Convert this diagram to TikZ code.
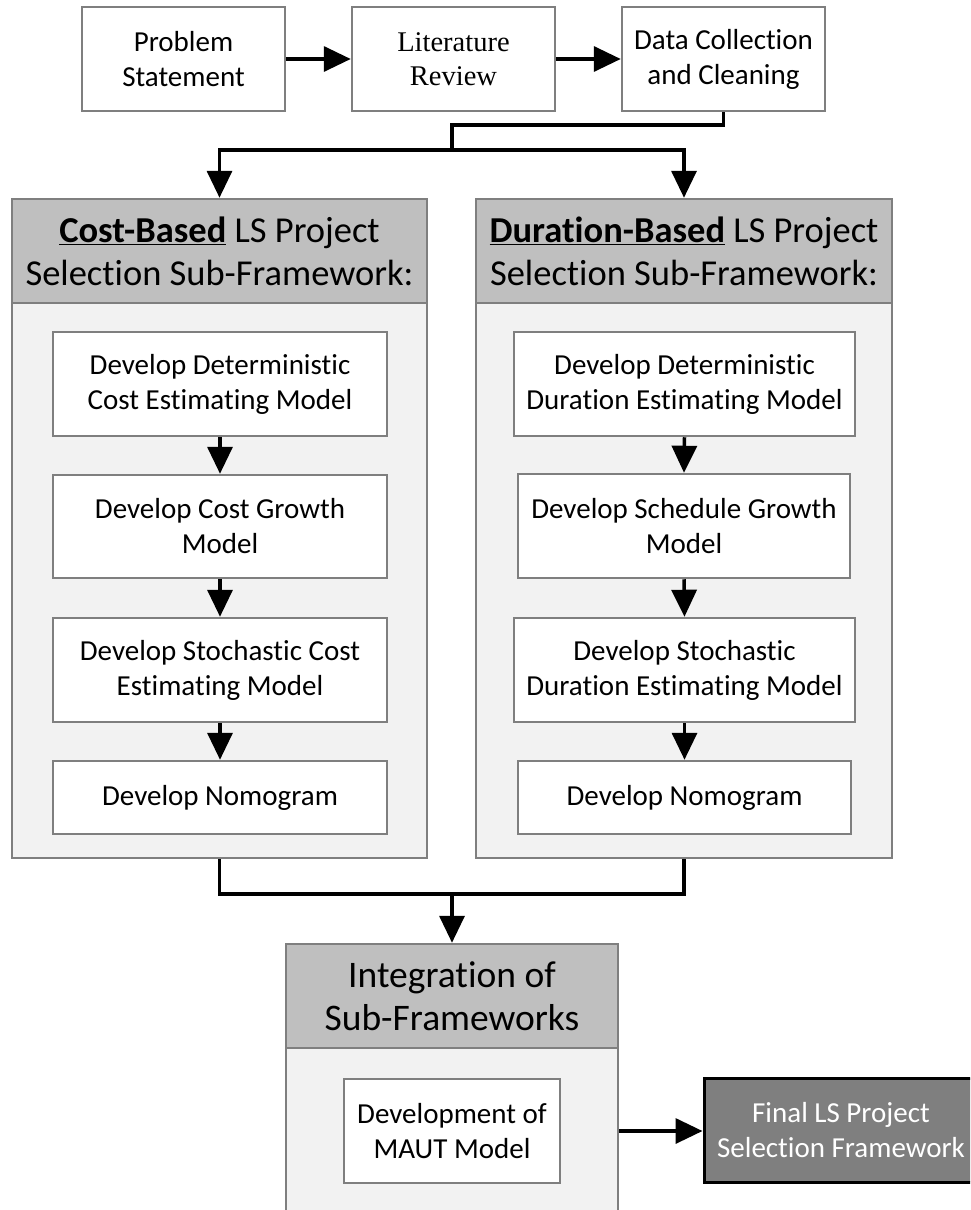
\documentclass[tikz,border=0pt]{standalone}
\usepackage{fontspec}
\setmainfont{Carlito}[Ligatures={NoCommon,TeX}]
\newfontfamily\timesfont{Liberation Serif}
\usetikzlibrary{arrows.meta}

\definecolor{frame}{HTML}{7F7F7F}
\definecolor{headgray}{HTML}{BFBFBF}
\definecolor{panelgray}{HTML}{F2F2F2}
\definecolor{finalgray}{HTML}{7F7F7F}

\tikzset{
  stepbox/.style={draw=frame, line width=2.5pt, fill=white, align=center,
    inner sep=0pt, font=\fontsize{29}{35}\selectfont},
  headbox/.style={draw=frame, line width=2.5pt, fill=headgray, align=center,
    inner sep=0pt, font=\fontsize{36.5}{43}\selectfont},
  panel/.style={draw=frame, line width=2.5pt, fill=panelgray, inner sep=0pt},
  finalbox/.style={draw=black, line width=3pt, fill=finalgray, text=white,
    align=center, inner sep=0pt, font=\fontsize{29}{35}\selectfont},
  link/.style={line width=3.5pt, draw=black},
  flow/.style={link, -{Triangle[length=27pt,width=25pt]}},
}

\begin{document}
\begin{tikzpicture}[x=1pt, y=-1pt]
\clip (0,0) rectangle (970,1210);
\fill[white] (0,0) rectangle (970,1210);

% top row
\node[stepbox, minimum width=203pt, minimum height=104pt] (ps) at (183.5,59)
  {Problem\\Statement};
\node[stepbox, minimum width=203pt, minimum height=104pt,
      font=\timesfont\fontsize{28.5}{34}\selectfont] (lit) at (453.5,59)
  {Literature\\Review};
\node[stepbox, minimum width=203pt, minimum height=104pt] (dat) at (723.5,59)
  {Data Collection\\and Cleaning};

\draw[flow] (ps.east) -- (lit.west);
\draw[flow] (lit.east) -- (dat.west);

% cost-based sub-framework
\node[panel, minimum width=415pt, minimum height=555pt] (cp) at (219.5,580.5) {};
\node[headbox, minimum width=415pt, minimum height=104pt] (ch) at (219.5,251)
  {\underline{\textbf{Cost-Based}} LS Project\\Selection Sub-Framework:};
\node[stepbox, minimum width=334pt, minimum height=104pt] (c1) at (220,384)
  {Develop Deterministic\\Cost Estimating Model};
\node[stepbox, minimum width=334pt, minimum height=103pt] (c2) at (220,526.5)
  {Develop Cost Growth\\Model};
\node[stepbox, minimum width=334pt, minimum height=104pt] (c3) at (220,670)
  {Develop Stochastic Cost\\Estimating Model};
\node[stepbox, minimum width=334pt, minimum height=73pt] (c4) at (220,797.5)
  {Develop Nomogram};

% duration-based sub-framework
\node[panel, minimum width=416pt, minimum height=555pt] (dp) at (684,580.5) {};
\node[headbox, minimum width=416pt, minimum height=104pt] (dh) at (684,251)
  {\underline{\textbf{Duration-Based}} LS Project\\Selection Sub-Framework:};
\node[stepbox, minimum width=341pt, minimum height=104pt] (d1) at (684.5,384)
  {Develop Deterministic\\Duration Estimating Model};
\node[stepbox, minimum width=332pt, minimum height=104pt] (d2) at (684,526)
  {Develop Schedule Growth\\Model};
\node[stepbox, minimum width=341pt, minimum height=104pt] (d3) at (684.5,670)
  {Develop Stochastic\\Duration Estimating Model};
\node[stepbox, minimum width=333pt, minimum height=73pt] (d4) at (684.5,797.5)
  {Develop Nomogram};

\foreach \a/\b in {c1/c2, c2/c3, c3/c4, d1/d2, d2/d3, d3/d4}
  \draw[flow] (\a.south) -- (\b.north);

% split from data collection to both sub-frameworks
\coordinate (jog) at (452,125);
\coordinate (split) at (452,150);
\draw[link] (dat.south) |- (jog) -- (split);
\draw[flow] (split) -| (ch.north);
\draw[flow] (split) -| (dh.north);

% integration
\node[panel, minimum width=332pt, minimum height=182pt] (ip) at (452,1139) {};
\node[headbox, minimum width=332pt, minimum height=104pt,
      font=\fontsize{37.5}{43}\selectfont] (ih) at (452,996)
  {Integration of\\Sub-Frameworks};
\node[stepbox, minimum width=216pt, minimum height=104pt] (maut) at (452,1131)
  {Development of\\MAUT Model};
\node[finalbox, minimum width=274pt, minimum height=104pt] (final) at (841,1130)
  {Final LS Project\\Selection Framework};

% merge of both sub-frameworks
\coordinate (merge) at (452,894);
\draw[link] (cp.south) |- (merge);
\draw[link] (dp.south) |- (merge);
\draw[flow] (merge) -- (ih.north);

\draw[flow] (ip.east |- maut) -- (final.west |- maut);
\end{tikzpicture}
\end{document}
